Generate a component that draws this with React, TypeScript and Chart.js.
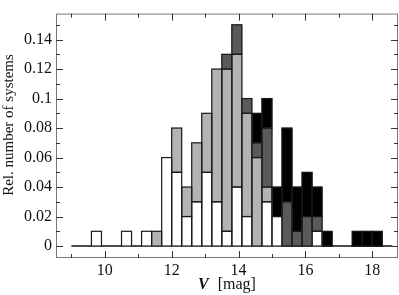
import React, { useEffect, useRef } from 'react';
import { Chart, registerables } from 'chart.js';

Chart.register(...registerables);

// Bin centres (bin width 0.3 mag)
const binCenters = [
  9.15, 9.45, 9.75, 10.05, 10.35, 10.65, 10.95, 11.25, 11.55, 11.85,
  12.15, 12.45, 12.75, 13.05, 13.35, 13.65, 13.95, 14.25, 14.55, 14.85,
  15.15, 15.45, 15.75, 16.05, 16.35, 16.65, 16.95, 17.25, 17.55, 17.85,
  18.15, 18.45,
];

// Stacked segments (relative number of systems)
const whiteValues = [
  0, 0, 0.01, 0, 0, 0.01, 0, 0.01, 0, 0.06,
  0.05, 0.02, 0.03, 0.05, 0.03, 0.01, 0.04, 0.02, 0, 0.03,
  0.02, 0, 0, 0, 0.01, 0, 0, 0, 0, 0,
  0, 0,
];
const lightGrayValues = [
  0, 0, 0, 0, 0, 0, 0, 0, 0.01, 0,
  0.03, 0.02, 0.04, 0.04, 0.09, 0.11, 0.09, 0.07, 0.06, 0.01,
  0, 0, 0, 0, 0, 0, 0, 0, 0, 0,
  0, 0,
];
const darkGrayValues = [
  0, 0, 0, 0, 0, 0, 0, 0, 0, 0,
  0, 0, 0, 0, 0, 0.01, 0.02, 0.01, 0.01, 0.04,
  0, 0.03, 0.01, 0.02, 0.01, 0, 0, 0, 0, 0,
  0, 0,
];
const blackValues = [
  0, 0, 0, 0, 0, 0, 0, 0, 0, 0,
  0, 0, 0, 0, 0, 0, 0, 0, 0.02, 0.02,
  0.02, 0.05, 0.03, 0.03, 0.02, 0.01, 0, 0, 0.01, 0.01,
  0.01, 0,
];

const histogramRange = [9.0, 18.6];
const xLabelTicks = [10, 12, 14, 16, 18];
const xAllTicks = [9, 10, 11, 12, 13, 14, 15, 16, 17, 18];
const yLabelTicks = [0, 0.02, 0.04, 0.06, 0.08, 0.1, 0.12, 0.14];
const yAllTicks = [0, 0.01, 0.02, 0.03, 0.04, 0.05, 0.06, 0.07, 0.08, 0.09, 0.1, 0.11, 0.12, 0.13, 0.14, 0.15];

const xTitleSymbol = 'V';
const xTitleUnit = '[mag]';
const yTitle = 'Rel. number of systems';

const FONT = "'Liberation Serif', 'DejaVu Serif', serif";
const EDGE = '#1a1a1a';

const toPoints = (vals: number[]) =>
  vals.map((v, i) => ({ x: binCenters[i], y: v === 0 ? null : v }));

// Outline every bar segment drawn by Chart.js, using the element geometry.
const outlinePlugin = {
  id: 'barOutlines',
  afterDatasetsDraw(chart: any) {
    const { ctx } = chart;
    ctx.save();
    ctx.strokeStyle = EDGE;
    ctx.lineWidth = 1.2;
    chart.data.datasets.forEach((ds: any, di: number) => {
      if (ds.type !== 'bar') return;
      const meta = chart.getDatasetMeta(di);
      meta.data.forEach((el: any) => {
        const p = el.getProps(['x', 'y', 'base', 'width'], true);
        if (!isFinite(p.y) || !isFinite(p.base) || Math.abs(p.base - p.y) < 0.5) return;
        const left = p.x - p.width / 2;
        const top = Math.min(p.y, p.base);
        ctx.strokeRect(left, top, p.width, Math.abs(p.base - p.y));
      });
    });
    ctx.restore();
  },
};

const framePlugin = {
  id: 'frameTicks',
  afterDraw(chart: any) {
    const { ctx, chartArea: a, scales } = chart;
    const x = scales.x;
    const y = scales.y;
    ctx.save();
    ctx.strokeStyle = '#777';
    ctx.lineWidth = 1;
    ctx.strokeRect(a.left + 0.5, a.top + 0.5, a.right - a.left - 1, a.bottom - a.top - 1);
    ctx.strokeStyle = '#333';
    ctx.lineWidth = 1;
    ctx.beginPath();
    xAllTicks.forEach((v) => {
      const px = Math.round(x.getPixelForValue(v)) + 0.5;
      const len = xLabelTicks.includes(v) ? 7 : 4;
      ctx.moveTo(px, a.bottom);
      ctx.lineTo(px, a.bottom - len);
      ctx.moveTo(px, a.top);
      ctx.lineTo(px, a.top + len);
    });
    yAllTicks.forEach((v, i) => {
      const py = Math.round(y.getPixelForValue(v)) + 0.5;
      const len = i % 2 === 0 ? 7 : 4;
      ctx.moveTo(a.left, py);
      ctx.lineTo(a.left + len, py);
      ctx.moveTo(a.right, py);
      ctx.lineTo(a.right - len, py);
    });
    ctx.stroke();

    ctx.fillStyle = '#111';
    ctx.textBaseline = 'alphabetic';
    ctx.textAlign = 'left';
    ctx.font = `italic bold 16px ${FONT}`;
    const w1 = ctx.measureText(xTitleSymbol).width;
    ctx.font = `16px ${FONT}`;
    const w2 = ctx.measureText(xTitleUnit).width;
    const gap = 9;
    const total = w1 + gap + w2;
    const cx = (a.left + a.right) / 2;
    const startX = cx - total / 2;
    ctx.font = `italic bold 16px ${FONT}`;
    ctx.fillText(xTitleSymbol, startX, 289);
    ctx.font = `16px ${FONT}`;
    ctx.fillText(xTitleUnit, startX + w1 + gap, 289);

    ctx.translate(9, 125);
    ctx.rotate(-Math.PI / 2);
    ctx.textAlign = 'center';
    ctx.textBaseline = 'middle';
    ctx.font = `15px ${FONT}`;
    ctx.fillText(yTitle, 0, 0);
    ctx.restore();
  },
};

export default function App() {
  const ref = useRef<HTMLCanvasElement | null>(null);
  useEffect(() => {
    document.body.style.margin = '0';
    document.body.style.background = '#ffffff';
    const canvas = ref.current;
    if (!canvas) return;
    const barCommon = {
      type: 'bar' as const,
      borderWidth: 0,
      barPercentage: 1.0,
      categoryPercentage: 1.0,
      grouped: false,
      stack: 'h',
    };
    const chart = new Chart(canvas, {
      type: 'bar',
      data: {
        datasets: [
          { ...barCommon, label: 'white', data: toPoints(whiteValues), backgroundColor: '#ffffff' },
          { ...barCommon, label: 'light', data: toPoints(lightGrayValues), backgroundColor: '#b3b3b3' },
          { ...barCommon, label: 'dark', data: toPoints(darkGrayValues), backgroundColor: '#5a5a5a' },
          { ...barCommon, label: 'black', data: toPoints(blackValues), backgroundColor: '#000000' },
          {
            type: 'line' as const,
            label: 'zero',
            data: [
              { x: histogramRange[0], y: 0 },
              { x: histogramRange[1], y: 0 },
            ],
            borderColor: '#111',
            backgroundColor: '#111',
            borderWidth: 1.5,
            pointRadius: 0,
            stack: 'zero',
            order: 10,
          } as any,
        ],
      },
      options: {
        animation: false,
        responsive: false,
        devicePixelRatio: 1,
        datasets: { bar: { barPercentage: 1.0, categoryPercentage: 1.0 } },
        layout: { padding: { left: 0, right: 1, top: 2, bottom: 0 } },
        plugins: { legend: { display: false }, tooltip: { enabled: false } },
        scales: {
          x: {
            type: 'linear',
            stacked: true,
            offset: false,
            min: 8.54,
            max: 18.77,
            grid: { display: false, drawTicks: false, offset: false },
            border: { display: false },
            afterBuildTicks: (s: any) => {
              s.ticks = xLabelTicks.map((v) => ({ value: v }));
            },
            afterFit: (s: any) => {
              s.height = 37;
            },
            ticks: {
              padding: 3,
              autoSkip: false,
              maxRotation: 0,
              color: '#111',
              font: { family: FONT, size: 16 },
              callback: (v: any) => String(v),
            },
          },
          y: {
            stacked: true,
            min: -0.0081,
            max: 0.1576,
            grid: { display: false, drawTicks: false },
            border: { display: false },
            afterBuildTicks: (s: any) => {
              s.ticks = yLabelTicks.map((v) => ({ value: v }));
            },
            afterFit: (s: any) => {
              s.width = 56;
            },
            ticks: {
              padding: 4,
              autoSkip: false,
              color: '#111',
              font: { family: FONT, size: 16 },
              callback: (v: any) => String(parseFloat(Number(v).toFixed(2))),
            },
          },
        },
      } as any,
      plugins: [outlinePlugin, framePlugin],
    });
    return () => chart.destroy();
  }, []);
  return (
    <div style={{ width: 399, height: 295, background: '#ffffff' }}>
      <canvas ref={ref} width={399} height={295} style={{ display: 'block' }} />
    </div>
  );
}
